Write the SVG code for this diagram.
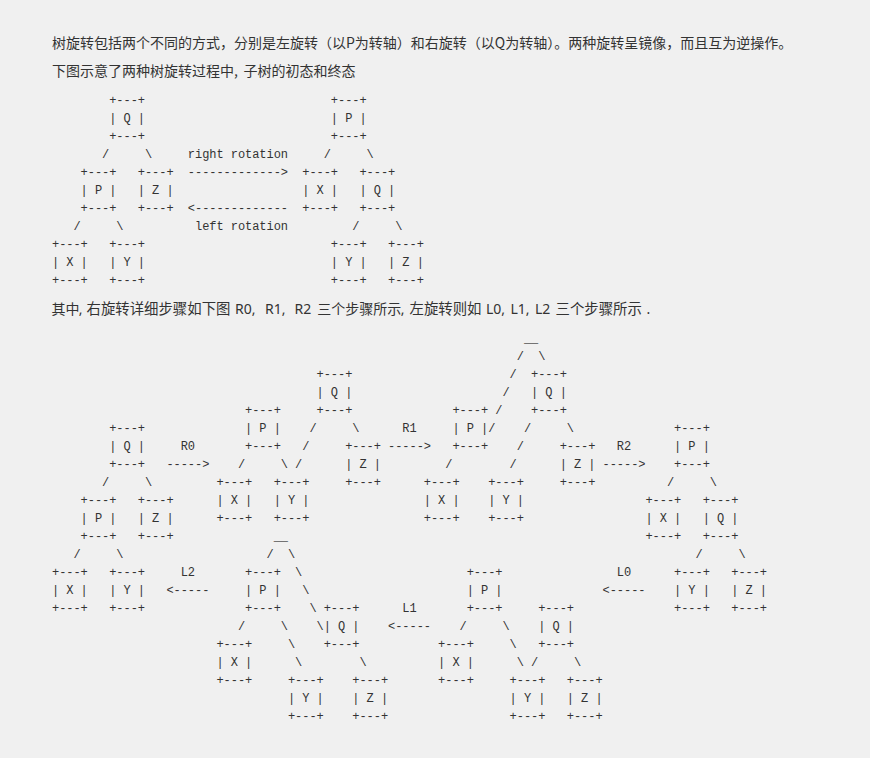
<svg xmlns="http://www.w3.org/2000/svg" width="870" height="758" viewBox="0 0 870 758">
<style>
.t{font-family:"Liberation Mono","DejaVu Sans Mono",monospace;font-size:12px;letter-spacing:-0.05px;fill:#333;white-space:pre}
.p{font-family:"Noto Sans CJK SC","Noto Sans",sans-serif;font-size:14px;fill:#333;white-space:pre}
.q{font-family:"Noto Sans CJK SC","Noto Sans",sans-serif;font-size:14.4px;fill:#333;white-space:pre}
.l{font-family:"Noto Sans","Noto Sans CJK SC",sans-serif;font-size:14px;fill:#333;white-space:pre}
</style>
<rect width="870" height="758" fill="#f0f0f0"/>
<g id="texts">
<text class="p" x="52" y="48">树旋转包括两个不同的方式，分别是左旋转（以P为转轴）和右旋转（以Q为转轴）。两种旋转呈镜像，而且互为逆操作。</text>
<text class="p" x="52" y="76">下图示意了两种树旋转过程中,</text>
<text class="p" x="243.5" y="76">子树的初态和终态</text>
<text class="p" x="51.5" y="314">其中</text>
<text class="l" x="78.8" y="314">,</text>
<text class="q" x="86.5" y="314">右旋转详细步骤如下图</text>
<text class="l" x="235" y="314">R0,</text>
<text class="l" x="265" y="314">R1,</text>
<text class="l" x="294.5" y="314">R2</text>
<text class="p" x="317.2" y="314">三个步骤所示</text>
<text class="l" x="400.8" y="314">,</text>
<text class="q" x="409.5" y="314">左旋转则如</text>
<text class="l" x="486" y="314">L0,</text>
<text class="l" x="510.5" y="314">L1,</text>
<text class="l" x="535" y="314">L2</text>
<text class="q" x="555.5" y="314">三个步骤所示</text>
<text class="l" x="646.5" y="314">.</text>
</g>
<!-- Diagram 1 nodes -->
<g id="d1-Q" transform="translate(109.2,104)"><text class="t" y="0">+---+</text><text class="t" y="18">| Q |</text><text class="t" y="36">+---+</text></g>
<g id="d1-P" transform="translate(80.6,176)"><text class="t" y="0">+---+</text><text class="t" y="18">| P |</text><text class="t" y="36">+---+</text></g>
<g id="d1-Z" transform="translate(137.8,176)"><text class="t" y="0">+---+</text><text class="t" y="18">| Z |</text><text class="t" y="36">+---+</text></g>
<g id="d1-X" transform="translate(52,248)"><text class="t" y="0">+---+</text><text class="t" y="18">| X |</text><text class="t" y="36">+---+</text></g>
<g id="d1-Y" transform="translate(109.2,248)"><text class="t" y="0">+---+</text><text class="t" y="18">| Y |</text><text class="t" y="36">+---+</text></g>
<g id="d1r-P" transform="translate(330.85,104)"><text class="t" y="0">+---+</text><text class="t" y="18">| P |</text><text class="t" y="36">+---+</text></g>
<g id="d1r-X" transform="translate(302.25,176)"><text class="t" y="0">+---+</text><text class="t" y="18">| X |</text><text class="t" y="36">+---+</text></g>
<g id="d1r-Q" transform="translate(359.45,176)"><text class="t" y="0">+---+</text><text class="t" y="18">| Q |</text><text class="t" y="36">+---+</text></g>
<g id="d1r-Y" transform="translate(330.85,248)"><text class="t" y="0">+---+</text><text class="t" y="18">| Y |</text><text class="t" y="36">+---+</text></g>
<g id="d1r-Z" transform="translate(388.05,248)"><text class="t" y="0">+---+</text><text class="t" y="18">| Z |</text><text class="t" y="36">+---+</text></g>
<!-- Diagram 2 nodes -->
<g id="s0-Q" transform="translate(109.2,432)"><text class="t" y="0">+---+</text><text class="t" y="18">| Q |</text><text class="t" y="36">+---+</text></g>
<g id="s0-P" transform="translate(80.6,504)"><text class="t" y="0">+---+</text><text class="t" y="18">| P |</text><text class="t" y="36">+---+</text></g>
<g id="s0-Z" transform="translate(137.8,504)"><text class="t" y="0">+---+</text><text class="t" y="18">| Z |</text><text class="t" y="36">+---+</text></g>
<g id="s0-X" transform="translate(52,576)"><text class="t" y="0">+---+</text><text class="t" y="18">| X |</text><text class="t" y="36">+---+</text></g>
<g id="s0-Y" transform="translate(109.2,576)"><text class="t" y="0">+---+</text><text class="t" y="18">| Y |</text><text class="t" y="36">+---+</text></g>
<g id="s1-Q" transform="translate(316.55,378)"><text class="t" y="0">+---+</text><text class="t" y="18">| Q |</text><text class="t" y="36">+---+</text></g>
<g id="s1-P" transform="translate(245.05,414)"><text class="t" y="0">+---+</text><text class="t" y="18">| P |</text><text class="t" y="36">+---+</text></g>
<g id="s1-X" transform="translate(216.45,486)"><text class="t" y="0">+---+</text><text class="t" y="18">| X |</text><text class="t" y="36">+---+</text></g>
<g id="s1-Y" transform="translate(273.65,486)"><text class="t" y="0">+---+</text><text class="t" y="18">| Y |</text><text class="t" y="36">+---+</text></g>
<g id="s1-Z" transform="translate(345.15,450)"><text class="t" y="0">+---+</text><text class="t" y="18">| Z |</text><text class="t" y="36">+---+</text></g>
<g id="s2-Q" transform="translate(531.05,378)"><text class="t" y="0">+---+</text><text class="t" y="18">| Q |</text><text class="t" y="36">+---+</text></g>
<g id="s2-P" transform="translate(452.4,414)"><text class="t" y="0">+---+</text><text class="t" y="18">| P |</text><text class="t" y="36">+---+</text></g>
<g id="s2-X" transform="translate(423.8,486)"><text class="t" y="0">+---+</text><text class="t" y="18">| X |</text><text class="t" y="36">+---+</text></g>
<g id="s2-Y" transform="translate(488.15,486)"><text class="t" y="0">+---+</text><text class="t" y="18">| Y |</text><text class="t" y="36">+---+</text></g>
<g id="s2-Z" transform="translate(559.65,450)"><text class="t" y="0">+---+</text><text class="t" y="18">| Z |</text><text class="t" y="36">+---+</text></g>
<g id="s3-P" transform="translate(674.05,432)"><text class="t" y="0">+---+</text><text class="t" y="18">| P |</text><text class="t" y="36">+---+</text></g>
<g id="s3-X" transform="translate(645.45,504)"><text class="t" y="0">+---+</text><text class="t" y="18">| X |</text><text class="t" y="36">+---+</text></g>
<g id="s3-Q" transform="translate(702.65,504)"><text class="t" y="0">+---+</text><text class="t" y="18">| Q |</text><text class="t" y="36">+---+</text></g>
<g id="s3-Y" transform="translate(674.05,576)"><text class="t" y="0">+---+</text><text class="t" y="18">| Y |</text><text class="t" y="36">+---+</text></g>
<g id="s3-Z" transform="translate(731.25,576)"><text class="t" y="0">+---+</text><text class="t" y="18">| Z |</text><text class="t" y="36">+---+</text></g>
<g id="l1-P" transform="translate(466.7,576)"><text class="t" y="0">+---+</text><text class="t" y="18">| P |</text><text class="t" y="36">+---+</text></g>
<g id="l1-X" transform="translate(438.1,648)"><text class="t" y="0">+---+</text><text class="t" y="18">| X |</text><text class="t" y="36">+---+</text></g>
<g id="l1-Q" transform="translate(538.2,612)"><text class="t" y="0">+---+</text><text class="t" y="18">| Q |</text><text class="t" y="36">+---+</text></g>
<g id="l1-Y" transform="translate(509.6,684)"><text class="t" y="0">+---+</text><text class="t" y="18">| Y |</text><text class="t" y="36">+---+</text></g>
<g id="l1-Z" transform="translate(566.8,684)"><text class="t" y="0">+---+</text><text class="t" y="18">| Z |</text><text class="t" y="36">+---+</text></g>
<g id="l2-P" transform="translate(245.05,576)"><text class="t" y="0">+---+</text><text class="t" y="18">| P |</text><text class="t" y="36">+---+</text></g>
<g id="l2-Q" transform="translate(323.7,612)"><text class="t" y="0">+---+</text><text class="t" y="18">| Q |</text><text class="t" y="36">+---+</text></g>
<g id="l2-X" transform="translate(216.45,648)"><text class="t" y="0">+---+</text><text class="t" y="18">| X |</text><text class="t" y="36">+---+</text></g>
<g id="l2-Y" transform="translate(287.95,684)"><text class="t" y="0">+---+</text><text class="t" y="18">| Y |</text><text class="t" y="36">+---+</text></g>
<g id="l2-Z" transform="translate(352.3,684)"><text class="t" y="0">+---+</text><text class="t" y="18">| Z |</text><text class="t" y="36">+---+</text></g>
<g id="connectors">
<!-- diagram 1 -->
<text class="t" x="102.05" y="158">/</text><text class="t" x="144.95" y="158">\</text>
<text class="t" x="323.7" y="158">/</text><text class="t" x="366.6" y="158">\</text>
<text class="t" x="73.45" y="230">/</text><text class="t" x="116.35" y="230">\</text>
<text class="t" x="352.3" y="230">/</text><text class="t" x="395.2" y="230">\</text>
<text class="t" x="187.85" y="158">right rotation</text>
<text class="t" x="187.85" y="176">-------------&gt;</text>
<text class="t" x="187.85" y="212">&lt;-------------</text>
<text class="t" x="195" y="230">left rotation</text>
<!-- stage 0 -->
<text class="t" x="102.05" y="486">/</text><text class="t" x="144.95" y="486">\</text>
<text class="t" x="73.45" y="558">/</text><text class="t" x="116.35" y="558">\</text>
<text class="t" x="180.7" y="450">R0</text>
<text class="t" x="166.4" y="468">-----&gt;</text>
<!-- stage R0 -->
<text class="t" x="309.4" y="432">/</text><text class="t" x="352.3" y="432">\</text>
<text class="t" x="302.25" y="450">/</text>
<text class="t" x="237.9" y="468">/</text><text class="t" x="280.8" y="468">\</text><text class="t" x="295.1" y="468">/</text>
<text class="t" x="402.35" y="432">R1</text>
<text class="t" x="388.05" y="450">-----&gt;</text>
<!-- stage R1 -->
<text class="t" x="523.9" y="342">__</text>
<text class="t" x="516.75" y="360">/</text><text class="t" x="538.2" y="360">\</text>
<text class="t" x="509.6" y="378">/</text>
<text class="t" x="502.45" y="396">/</text>
<text class="t" x="495.3" y="414">/</text>
<text class="t" x="488.15" y="432">/</text><text class="t" x="523.9" y="432">/</text><text class="t" x="566.8" y="432">\</text>
<text class="t" x="516.75" y="450">/</text>
<text class="t" x="445.25" y="468">/</text><text class="t" x="509.6" y="468">/</text>
<text class="t" x="616.85" y="450">R2</text>
<text class="t" x="602.55" y="468">-----&gt;</text>
<!-- stage R2 -->
<text class="t" x="666.9" y="486">/</text><text class="t" x="709.8" y="486">\</text>
<text class="t" x="695.5" y="558">/</text><text class="t" x="738.4" y="558">\</text>
<text class="t" x="616.85" y="576">L0</text>
<text class="t" x="602.55" y="594">&lt;-----</text>
<!-- stage L1 -->
<text class="t" x="459.55" y="630">/</text><text class="t" x="502.45" y="630">\</text>
<text class="t" x="509.6" y="648">\</text>
<text class="t" x="516.75" y="666">\</text><text class="t" x="531.05" y="666">/</text><text class="t" x="573.95" y="666">\</text>
<text class="t" x="402.35" y="612">L1</text>
<text class="t" x="388.05" y="630">&lt;-----</text>
<!-- stage L2 -->
<text class="t" x="273.65" y="540">__</text>
<text class="t" x="266.5" y="558">/</text><text class="t" x="287.95" y="558">\</text>
<text class="t" x="295.1" y="576">\</text>
<text class="t" x="302.25" y="594">\</text>
<text class="t" x="309.4" y="612">\</text>
<text class="t" x="237.9" y="630">/</text><text class="t" x="280.8" y="630">\</text><text class="t" x="316.55" y="630">\</text>
<text class="t" x="287.95" y="648">\</text>
<text class="t" x="295.1" y="666">\</text><text class="t" x="359.45" y="666">\</text>
<text class="t" x="180.7" y="576">L2</text>
<text class="t" x="166.4" y="594">&lt;-----</text>
</g>
</svg>
